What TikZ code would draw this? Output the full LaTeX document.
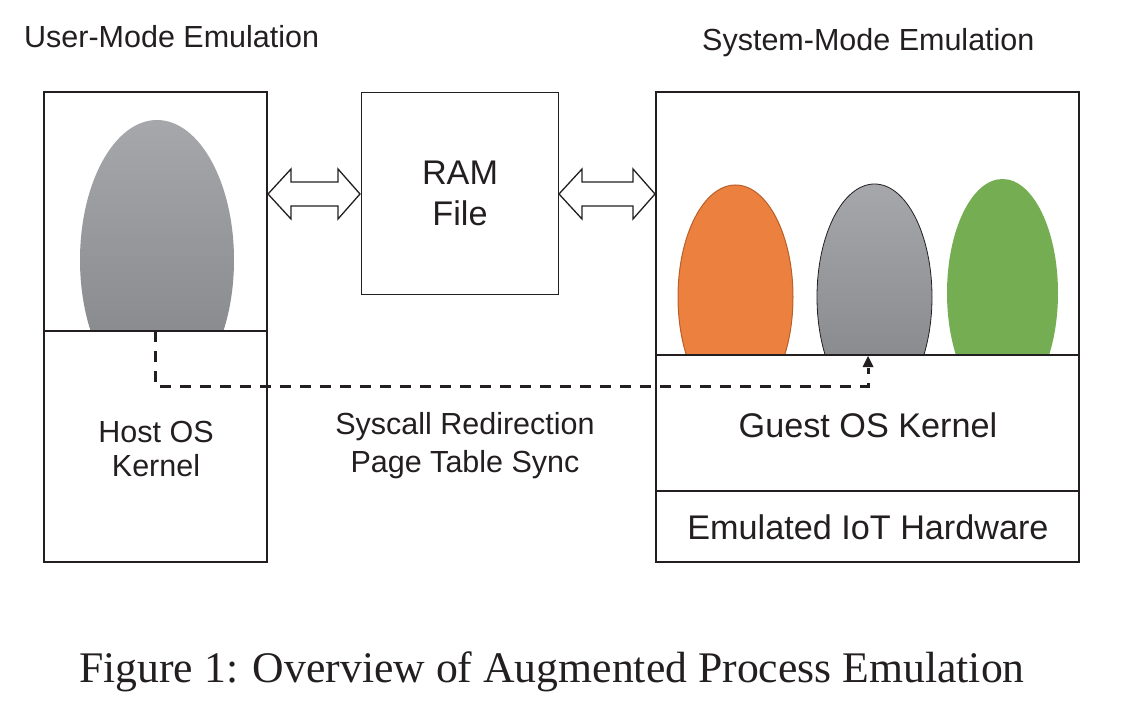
\documentclass[tikz,border=0pt]{standalone}
\usepackage{fontspec}
\setmainfont{Liberation Serif}
\setsansfont{Liberation Sans}
\usetikzlibrary{arrows.meta}
\definecolor{ink}{HTML}{231F20}
\definecolor{grayTop}{HTML}{A6A8AB}
\definecolor{grayBot}{HTML}{808285}
\definecolor{orangeFill}{HTML}{EC813F}
\definecolor{orangeLine}{HTML}{B85F2A}
\definecolor{greenFill}{HTML}{74AD52}
\tikzset{
  box/.style={draw=ink, line width=1.4pt},
  wbox/.style={draw=ink, fill=white, line width=1.4pt},
  small/.style={font=\sffamily\fontsize{30.5}{36}\selectfont, text=ink, inner sep=0pt, anchor=base},
  big/.style={font=\sffamily\fontsize{34.2}{40}\selectfont, text=ink, inner sep=0pt, anchor=base},
  dblarrow/.style={draw=ink, fill=white, line width=1.3pt, line join=miter},
  dashconn/.style={draw=ink, line width=3pt, dash pattern=on 11pt off 9pt},
  grayegg/.style={top color=grayTop, bottom color=grayBot},
}
\begin{document}
\begin{tikzpicture}[x=1pt,y=-1pt]
\useasboundingbox (0,0) rectangle (1122,722);
% titles
\node[small, anchor=base west] (tuser) at (24,48) {User-Mode Emulation};
\node[small, anchor=base west] (tsys) at (702,51) {System-Mode Emulation};
% left box
\draw[box] (44,92) rectangle (267,562);
\begin{scope}
  \clip (157,260) ellipse [x radius=77, y radius=140];
  \shade[grayegg] (75,115) rectangle (239,405);
\end{scope}
\draw[wbox] (44,331) rectangle (267,562);
\coordinate (hostk) at (155,331);
\node[small] (host1) at (156,442) {Host OS};
\node[small] (host2) at (156,476) {Kernel};
% RAM file
\node[box, minimum width=197, minimum height=202, anchor=north west, inner sep=0pt] (ram) at (361,92) {};
\node[big] (ram1) at (460,185) {RAM};
\node[big] (ram2) at (460,226) {File};
% right box
\draw[box] (656,92) rectangle (1079,562);
\filldraw[fill=orangeFill, draw=orangeLine, line width=1pt] (735.5,297) ellipse [x radius=57.5, y radius=112];
\begin{scope}
  \clip (874.5,297) ellipse [x radius=57.5, y radius=113];
  \shade[grayegg] (812,180) rectangle (937,414);
\end{scope}
\draw[draw=ink, line width=0.8pt] (874.5,297) ellipse [x radius=57.5, y radius=113];
\fill[greenFill] (1002.5,293) ellipse [x radius=55.5, y radius=114];
\draw[wbox] (656,355) rectangle (1079,491);
\draw[wbox] (656,491) rectangle (1079,562);
\coordinate (guestk) at (868,356);
\node[big] (guest) at (868,437) {Guest OS Kernel};
\node[big] (hw) at (868,539) {Emulated IoT Hardware};
% double arrows
\draw[dblarrow] (268,194) -- (291,169) -- (291,182) -- (338,182) -- (338,169) -- (360,194)
  -- (338,219) -- (338,206) -- (291,206) -- (291,219) -- cycle;
\draw[dblarrow] (559,194) -- (582,169) -- (582,182) -- (633,182) -- (633,169) -- (655,194)
  -- (633,219) -- (633,206) -- (582,206) -- (582,219) -- cycle;
% dashed connector
\draw[dashconn] (hostk) -- (155,386) -- (868,386) -- (868,368);
\fill[ink] (guestk) -- (862.5,367) -- (873.5,367) -- cycle;
\node[small] (sys1) at (465,434) {Syscall Redirection};
\node[small] (sys2) at (465,472) {Page Table Sync};
% caption
\node[font=\rmfamily\fontsize{43.7}{50}\selectfont, text=ink, inner sep=0pt, anchor=base] (cap) at (552,682) {Figure 1: Overview of Augmented Process Emulation};
\end{tikzpicture}
\end{document}
